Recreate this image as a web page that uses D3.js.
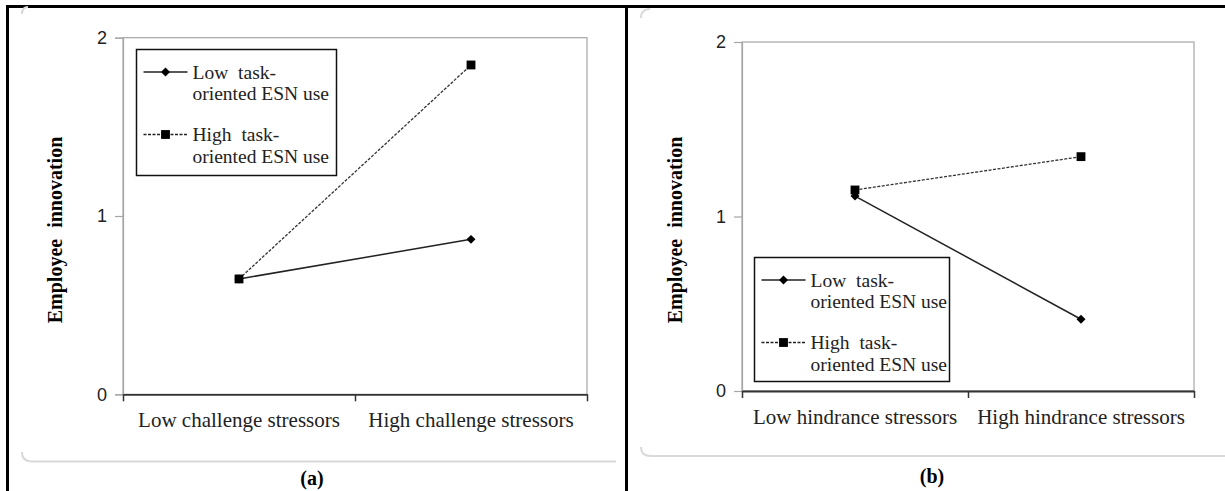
<!DOCTYPE html>
<html>
<head>
<meta charset="utf-8">
<script src="https://cdn.jsdelivr.net/npm/d3@7"></script>
<style>
  html, body { margin: 0; padding: 0; background: #fff; }
  svg { display: block; }
</style>
</head>
<body>
<svg id="chart" width="1225" height="491"></svg>
<script>
'use strict';

// ── Data ───────────────────────────────────────────────────────────────────
const catsA   = ['Low challenge stressors', 'High challenge stressors'];
const catsB   = ['Low hindrance stressors', 'High hindrance stressors'];
const lowA    = [0.647, 0.869];
const highA   = [0.647, 1.847];
const lowB    = [1.117, 0.411];
const highB   = [1.152, 1.343];
const yTicks  = [0, 1, 2];
const seriesNames = [['Low task-', 'oriented ESN use'], ['High task-', 'oriented ESN use']];
const yTitle  = 'Employee innovation';

const SERIF = '"Liberation Serif", "Times New Roman", serif';
const SANS  = '"Liberation Sans", Arial, sans-serif';
const svg = d3.select('#chart');

// ── Table frame ────────────────────────────────────────────────────────────
const frame = svg.append('g').attr('stroke', '#000').attr('stroke-width', 3);
frame.append('line').attr('x1', 6).attr('x2', 1225).attr('y1', 6.5).attr('y2', 6.5);
frame.append('line').attr('x1', 7.5).attr('x2', 7.5).attr('y1', 5).attr('y2', 491);
frame.append('line').attr('x1', 626.5).attr('x2', 626.5).attr('y1', 5).attr('y2', 491);

// faint rounded panel edges
const shade = svg.append('g').attr('fill', 'none').attr('stroke', '#d9d9d9').attr('stroke-width', 2);
shade.append('path').attr('d', 'M22,452 Q22,461.5 32,461.5 L616,461.5');
shade.append('path').attr('d', 'M22,14 Q22,7 28,7');
shade.append('path').attr('d', 'M641,447 Q641,456 651,456 L1225,456');
shade.append('path').attr('d', 'M641,18 Q641,9 650,9');

// ── Panels ─────────────────────────────────────────────────────────────────
drawPanel({
  cats: catsA, low: lowA, high: highA,
  x0: 123, x1: 587, y0: 394.3, y1: 37.7,
  titleX: 55, titleY: 230,
  legend: { x: 136.5, y: 49.5, w: 200, h: 126 },
  tag: '(a)', tagX: 312, tagY: 485
});

drawPanel({
  cats: catsB, low: lowB, high: highB,
  x0: 742, x1: 1194, y0: 391, y1: 42,
  titleX: 675, titleY: 230,
  legend: { x: 754.5, y: 257.5, w: 195, h: 124 },
  tag: '(b)', tagX: 932, tagY: 483
});

function drawPanel(p) {
  const g = svg.append('g');

  const x = d3.scaleBand().domain(p.cats).range([p.x0, p.x1]).padding(0);
  const xEdge = d3.scaleLinear().domain([0, p.cats.length]).range([p.x0, p.x1]);
  const y = d3.scaleLinear().domain([0, 2]).range([p.y0, p.y1]);

  // plot frame (top + right, grey)
  g.append('rect')
    .attr('x', p.x0).attr('y', y(2))
    .attr('width', p.x1 - p.x0).attr('height', y(0) - y(2))
    .attr('fill', 'none').attr('stroke', '#a6a6a6').attr('stroke-width', 1.2);

  // y axis
  const ya = g.append('g')
    .attr('transform', `translate(${p.x0},0)`)
    .call(d3.axisLeft(y).tickValues(yTicks).tickSize(8).tickPadding(8).tickFormat(d3.format('d')));
  ya.select('.domain').attr('stroke', '#a6a6a6').attr('stroke-width', 1.2);
  ya.selectAll('.tick line').attr('stroke', '#a6a6a6').attr('stroke-width', 1.2);
  ya.selectAll('.tick text').attr('font-family', SANS).attr('font-size', '18px').attr('fill', '#222');

  // x axis: tick marks at band edges, labels at centres
  const xa = g.append('g')
    .attr('transform', `translate(0,${p.y0})`)
    .call(d3.axisBottom(xEdge).tickValues(d3.range(p.cats.length + 1)).tickSize(7).tickSizeOuter(0).tickFormat(''));
  xa.select('.domain').attr('stroke', '#333').attr('stroke-width', 1.8);
  xa.selectAll('.tick line').attr('stroke', '#333').attr('stroke-width', 1.5);

  const xl = g.append('g')
    .attr('transform', `translate(0,${p.y0})`)
    .call(d3.axisBottom(x).tickSize(0).tickPadding(18));
  xl.select('.domain').remove();
  xl.selectAll('.tick text')
    .attr('font-family', SERIF).attr('font-size', '21px').attr('fill', '#222');

  // y title
  g.append('text')
    .attr('transform', `translate(${p.titleX},${p.titleY}) rotate(-90)`)
    .attr('text-anchor', 'middle').attr('dominant-baseline', 'central')
    .attr('font-family', SERIF).attr('font-weight', 'bold').attr('font-size', '20px')
    .attr('word-spacing', '6px').attr('fill', '#000')
    .text(yTitle);

  // lines
  const line = d3.line().x((d, i) => x(p.cats[i]) + x.bandwidth() / 2).y(d => y(d));
  g.append('path').datum(p.low).attr('d', line)
    .attr('fill', 'none').attr('stroke', '#222').attr('stroke-width', 1.5);
  g.append('path').datum(p.high).attr('d', line)
    .attr('fill', 'none').attr('stroke', '#333').attr('stroke-width', 1.3).attr('stroke-dasharray', '3,1.5');

  const diamond = d3.symbol(d3.symbolSquare, 40)();
  const square  = d3.symbol(d3.symbolSquare, 78)();

  g.selectAll('.pt-low').data(p.low).join('path')
    .attr('d', diamond).attr('fill', '#000')
    .attr('transform', (d, i) => `translate(${x(p.cats[i]) + x.bandwidth() / 2},${y(d)}) rotate(45)`);
  g.selectAll('.pt-high').data(p.high).join('path')
    .attr('d', square).attr('fill', '#000')
    .attr('transform', (d, i) => `translate(${x(p.cats[i]) + x.bandwidth() / 2},${y(d)})`);

  // legend
  const L = p.legend;
  const lg = g.append('g').attr('transform', `translate(${L.x},${L.y})`);
  lg.append('rect').attr('width', L.w).attr('height', L.h)
    .attr('fill', '#fff').attr('stroke', '#111').attr('stroke-width', 1.5);

  const rowY = [22.5, 85];
  seriesNames.forEach((names, k) => {
    const ry = rowY[k];
    lg.append('line').attr('x1', 7).attr('x2', 51).attr('y1', ry).attr('y2', ry)
      .attr('stroke', '#222').attr('stroke-width', k === 0 ? 1.5 : 1.3)
      .attr('stroke-dasharray', k === 0 ? null : '3,1.5');
    lg.append('path')
      .attr('d', k === 0 ? diamond : square).attr('fill', '#000')
      .attr('transform', `translate(29,${ry})` + (k === 0 ? ' rotate(45)' : ''));
    names.forEach((t, j) => {
      lg.append('text')
        .attr('x', 56).attr('y', ry + j * 21.5)
        .attr('dominant-baseline', 'central')
        .attr('font-family', SERIF).attr('font-size', '19.5px').attr('fill', '#222')
        .attr('word-spacing', j === 0 ? '5px' : '0px')
        .text(t);
    });
  });

  // panel tag
  g.append('text')
    .attr('x', p.tagX).attr('y', p.tagY)
    .attr('text-anchor', 'middle')
    .attr('font-family', SERIF).attr('font-weight', 'bold').attr('font-size', '20px').attr('fill', '#000')
    .text(p.tag);
}
</script>
</body>
</html>
